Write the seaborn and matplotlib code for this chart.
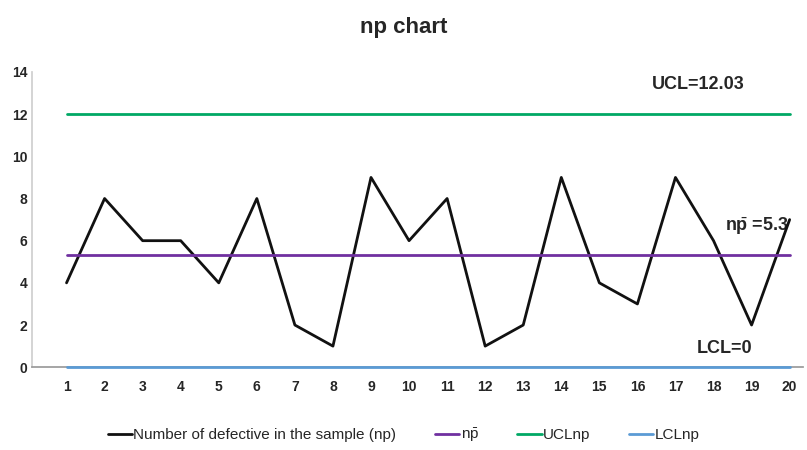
import numpy as np
import pandas as pd
import matplotlib
matplotlib.use("Agg")
import matplotlib.pyplot as plt
import seaborn as sns

# np chart data
samples = list(range(1, 21))
defectives = [4, 8, 6, 6, 4, 8, 2, 1, 9, 6, 8, 1, 2, 9, 4, 3, 9, 6, 2, 7]
np_bar = 5.3
ucl = 12.03
lcl = 0
y_ticks = [0, 2, 4, 6, 8, 10, 12, 14]

sns.set_theme(style="white")
plt.rcParams['font.family'] = ['Liberation Sans', 'DejaVu Sans']
plt.rcParams['mathtext.fontset'] = 'custom'
plt.rcParams['mathtext.rm'] = 'Liberation Sans'
plt.rcParams['mathtext.bf'] = 'Liberation Sans:bold'

npbar_label = r'n$\bar{\mathregular{p}}$'
df = pd.DataFrame({
    'sample': samples,
    'Number of defective in the sample (np)': defectives,
    npbar_label: [np_bar] * len(samples),
    'UCLnp': [ucl] * len(samples),
    'LCLnp': [lcl] * len(samples),
})
long = df.melt(id_vars='sample', var_name='series', value_name='value')

colors = {'Number of defective in the sample (np)': '#111111',
          npbar_label: '#7030a0',
          'UCLnp': '#00a865',
          'LCLnp': '#5b9bd5'}

fig = plt.figure(figsize=(8.07, 4.5), dpi=100)
ax = fig.add_axes([0.04, 0.184, 0.955, 0.656])
sns.lineplot(data=long, x='sample', y='value', hue='series', palette=colors,
             linewidth=2, ax=ax, legend=True)
for ln in ax.get_lines():
    ln.set_clip_on(False)
    ln.set_zorder(5)

ax.set_xlim(0.1, 20.35)
ax.set_ylim(0, 14)
ax.set_yticks(y_ticks)
ax.set_xticks(samples)
ax.tick_params(axis='both', length=0, labelsize=10)
ax.tick_params(axis='x', pad=9)
for lab in ax.get_xticklabels() + ax.get_yticklabels():
    lab.set_fontweight('bold')
ax.set_xlabel('')
ax.set_ylabel('')
for s in ['top', 'right']:
    ax.spines[s].set_visible(False)
ax.spines['left'].set_color('#cfcfcf')
ax.spines['bottom'].set_color('#9a9a9a')

fig.suptitle('np chart', y=0.962, fontsize=16, fontweight='bold')

ax.text(17.6, 13.4, 'UCL=12.03', ha='center', va='center', fontsize=13, fontweight='bold')
ax.text(19.15, 6.7, r'n$\bar{\mathbf{p}}$ =5.3', ha='center', va='center', fontsize=13,
        fontweight='bold')
ax.text(18.3, 0.9, 'LCL=0', ha='center', va='center', fontsize=13, fontweight='bold')

handles, labels = ax.get_legend_handles_labels()
ax.legend(handles, labels, loc='lower center', bbox_to_anchor=(0.5, -0.018),
          bbox_transform=fig.transFigure, ncol=4, frameon=False, fontsize=11,
          handlelength=1.6, handletextpad=0.1, columnspacing=2.5)

fig.savefig('out.png', dpi=100)
